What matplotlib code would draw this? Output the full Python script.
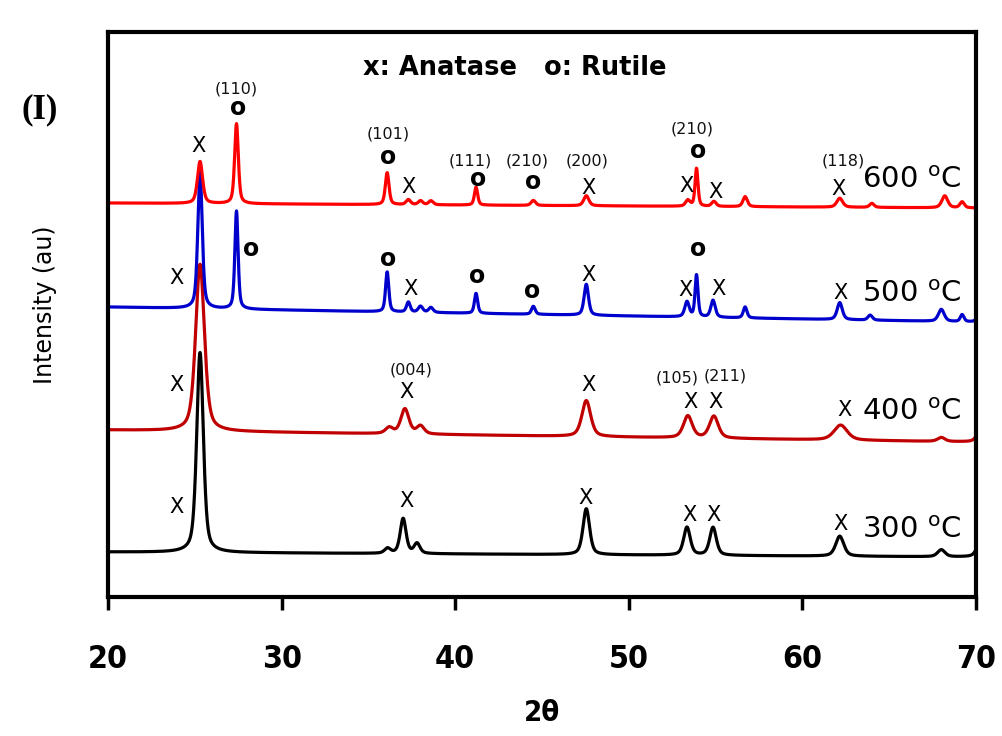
import numpy as np
import matplotlib
matplotlib.use("Agg")
import matplotlib.pyplot as plt
from matplotlib import font_manager

# ---------------- data ----------------
two_theta_range = (20, 70)
x_ticks = [20, 30, 40, 50, 60, 70]

# series: temperature label, colour, baseline (left, right), peak positions / heights / FWHM
series_labels = ["300", "400", "500", "600"]
series_colors = ["#000000", "#C00000", "#0000CC", "#FF0000"]

base_300 = (45, 40)
pos_300 = [25.30, 36.10, 37.00, 37.80, 47.55, 53.35, 54.85, 62.15, 68.00, 70.30]
hgt_300 = [200, 5, 35, 10, 46, 28, 28, 20, 7, 20]
wid_300 = [0.45, 0.40, 0.40, 0.40, 0.45, 0.45, 0.45, 0.55, 0.50, 0.50]

base_400 = (167, 155)
pos_400 = [25.30, 36.20, 37.10, 38.00, 47.55, 53.40, 54.90, 62.20, 68.00, 70.30]
hgt_400 = [167, 6, 25, 8, 36, 22, 22, 15, 4, 15]
wid_400 = [0.60, 0.50, 0.55, 0.50, 0.60, 0.60, 0.60, 0.90, 0.50, 0.50]

base_500 = (290, 275)
pos_500 = [25.30, 27.40, 36.08, 37.30, 38.00, 38.60, 41.20, 44.50, 47.55, 53.35,
           53.90, 54.85, 56.70, 62.15, 63.90, 68.00, 69.20, 70.20]
hgt_500 = [137, 98, 40, 10, 6, 5, 20, 8, 31, 15, 42, 17, 11, 17, 5, 12, 7, 10]
wid_500 = [0.30, 0.22, 0.22, 0.25, 0.30, 0.30, 0.22, 0.25, 0.30, 0.30,
           0.20, 0.30, 0.25, 0.35, 0.30, 0.40, 0.25, 0.30]

base_600 = (394, 389)
pos_600 = [25.30, 27.40, 36.08, 37.30, 38.00, 38.60, 41.20, 44.50, 47.55, 53.40,
           53.90, 54.90, 56.70, 62.15, 64.00, 68.20, 69.20]
hgt_600 = [42, 80, 32, 5, 4, 4, 18, 5, 10, 6, 38, 5, 10, 9, 4, 12, 6]
wid_600 = [0.35, 0.25, 0.25, 0.30, 0.30, 0.30, 0.22, 0.30, 0.35, 0.30,
           0.20, 0.30, 0.30, 0.40, 0.30, 0.40, 0.30]

# peak markers: (text, 2theta, intensity, kind)  kind: X = anatase, O = rutile, H = hkl
labels_600 = [("X", 25.24, 451, "X"), ("(110)", 27.37, 508, "H"), ("o", 27.49, 489, "O"),
              ("(101)", 36.13, 463, "H"), ("o", 36.13, 440, "O"), ("X", 37.28, 410, "X"),
              ("(111)", 40.85, 436, "H"), ("o", 41.31, 418, "O"),
              ("(210)", 44.14, 436, "H"), ("o", 44.48, 415, "O"),
              ("(200)", 47.59, 436, "H"), ("X", 47.65, 409, "X"), ("X", 53.35, 411, "X"),
              ("(210)", 53.64, 468, "H"), ("o", 53.99, 446, "O"), ("X", 54.97, 405, "X"),
              ("(118)", 62.34, 436, "H"), ("X", 62.05, 408, "X")]
labels_500 = [("X", 23.92, 319, "X"), ("o", 28.24, 348, "O"), ("o", 36.13, 338, "O"),
              ("X", 37.40, 308, "X"), ("o", 41.26, 321, "O"), ("o", 44.42, 306, "O"),
              ("X", 47.65, 322, "X"), ("o", 53.99, 348, "O"), ("X", 53.29, 307, "X"),
              ("X", 55.14, 308, "X"), ("X", 62.22, 304, "X")]
labels_400 = [("X", 23.92, 212, "X"), ("(004)", 37.45, 227, "H"), ("X", 37.22, 205, "X"),
              ("X", 47.65, 212, "X"), ("(105)", 52.78, 219, "H"), ("X", 53.58, 195, "X"),
              ("(211)", 55.54, 221, "H"), ("X", 55.02, 195, "X"), ("X", 62.40, 187, "X")]
labels_300 = [("X", 23.92, 90, "X"), ("X", 37.22, 96, "X"), ("X", 47.53, 99, "X"),
              ("X", 53.47, 82, "X"), ("X", 54.85, 82, "X"), ("X", 62.22, 73, "X")]
temp_label_pos = [(66.3, 67), (66.3, 185), (66.3, 303), (66.3, 417)]

# ---------------- build the patterns ----------------
def pattern(x, base, pos, hgt, wid):
    y = base[0] + (base[1] - base[0]) * (x - x[0]) / (x[-1] - x[0])
    for p, h, w in zip(pos, hgt, wid):
        g = w / 2.0
        lor = g ** 2 / ((x - p) ** 2 + g ** 2)
        gau = np.exp(-4 * np.log(2) * (x - p) ** 2 / w ** 2)
        y = y + h * (0.5 * lor + 0.5 * gau)
    return y

x = np.linspace(two_theta_range[0], two_theta_range[1], 3000)
all_series = [
    (base_300, pos_300, hgt_300, wid_300),
    (base_400, pos_400, hgt_400, wid_400),
    (base_500, pos_500, hgt_500, wid_500),
    (base_600, pos_600, hgt_600, wid_600),
]

fig = plt.figure(figsize=(10.03, 7.36), dpi=100)
ax = fig.add_axes([0.1077, 0.1889, 0.8654, 0.7676])

for (base, pos, hgt, wid), col in zip(all_series, series_colors):
    ax.plot(x, pattern(x, base, pos, hgt, wid), color=col, lw=2.3, zorder=2)

for labs in [labels_300, labels_400, labels_500, labels_600]:
    for txt, xx, yy, kind in labs:
        if kind == "X":
            ax.text(xx, yy, txt, fontsize=15, ha="center", va="center", color="black")
        elif kind == "O":
            ax.text(xx, yy, txt, fontsize=17, fontweight="bold", ha="center", va="center", color="black")
        else:
            ax.text(xx, yy, txt, fontsize=11.5, ha="center", va="center", color="#111111")

for lab, (xx, yy) in zip(series_labels, temp_label_pos):
    ax.text(xx, yy, lab + r" $^{\mathrm{o}}$C", fontsize=21, ha="center", va="center")

ax.text(43.45, 529, "x: Anatase   o: Rutile", fontsize=18.5, fontweight="bold",
        ha="center", va="center")

ax.set_xlim(*two_theta_range)
ax.set_ylim(0, 565)
ax.set_xticks(x_ticks)
ax.set_yticks([])
for s in ax.spines.values():
    s.set_linewidth(3)
ax.tick_params(axis="x", direction="out", length=9, width=2.5, pad=25)
tick_font = font_manager.FontProperties(family="DejaVu Sans", stretch="condensed",
                                        weight="bold", size=23)
for t in ax.get_xticklabels():
    t.set_fontproperties(tick_font)
ax.set_xlabel("2θ", fontproperties=font_manager.FontProperties(
    family="DejaVu Sans", stretch="condensed", weight="bold", size=21), labelpad=17)
fig.text(45 / 1003, 1 - 305 / 736, "Intensity (au)", rotation=90, fontsize=17,
         ha="center", va="center")
fig.text(40 / 1003, 1 - 110 / 736, "(I)", fontsize=25, fontweight="bold",
         family="Liberation Serif", ha="center", va="center")

fig.savefig("out.png", dpi=100)
